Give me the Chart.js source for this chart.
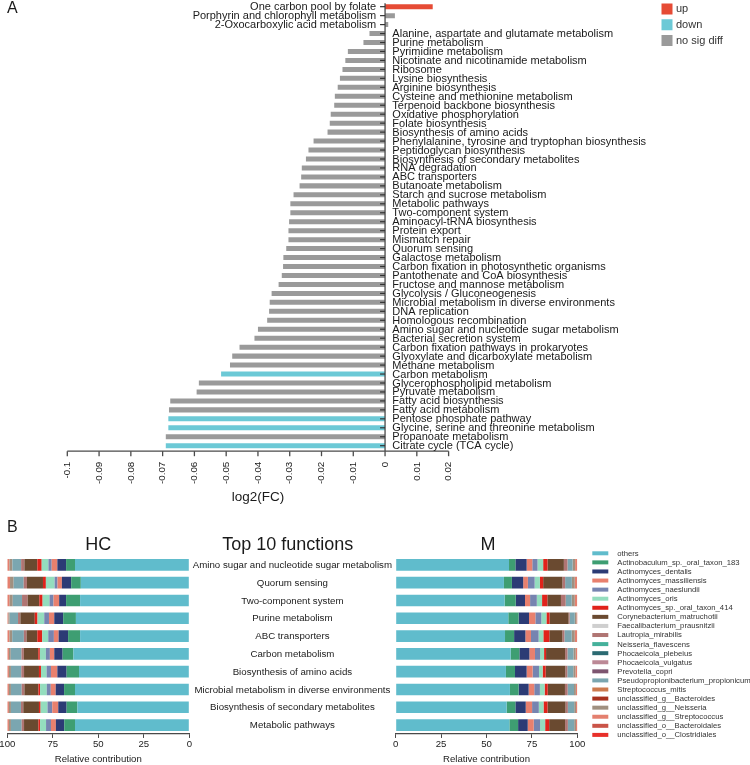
<!DOCTYPE html>
<html><head><meta charset="utf-8">
<script src="https://cdn.jsdelivr.net/npm/chart.js@4.4.1/dist/chart.umd.min.js"></script>
<style>
html,body{margin:0;padding:0;background:#fff;width:750px;height:765px;overflow:hidden;}
canvas{position:absolute;}
</style></head><body>
<canvas id="cA" width="750" height="515" style="left:0;top:0"></canvas>
<canvas id="cHC" width="395" height="250" style="left:0;top:515px"></canvas>
<canvas id="cM" width="365" height="250" style="left:385px;top:515px"></canvas>
<script>
const FONT = "'Liberation Sans', Arial, sans-serif";

// ---------- Panel A data ----------
const pathways = [
 "One carbon pool by folate","Porphyrin and chlorophyll metabolism","2-Oxocarboxylic acid metabolism",
 "Alanine, aspartate and glutamate metabolism","Purine metabolism","Pyrimidine metabolism",
 "Nicotinate and nicotinamide metabolism","Ribosome","Lysine biosynthesis","Arginine biosynthesis",
 "Cysteine and methionine metabolism","Terpenoid backbone biosynthesis","Oxidative phosphorylation",
 "Folate biosynthesis","Biosynthesis of amino acids","Phenylalanine, tyrosine and tryptophan biosynthesis",
 "Peptidoglycan biosynthesis","Biosynthesis of secondary metabolites","RNA degradation","ABC transporters",
 "Butanoate metabolism","Starch and sucrose metabolism","Metabolic pathways","Two-component system",
 "Aminoacyl-tRNA biosynthesis","Protein export","Mismatch repair","Quorum sensing","Galactose metabolism",
 "Carbon fixation in photosynthetic organisms","Pantothenate and CoA biosynthesis","Fructose and mannose metabolism",
 "Glycolysis / Gluconeogenesis","Microbial metabolism in diverse environments","DNA replication",
 "Homologous recombination","Amino sugar and nucleotide sugar metabolism","Bacterial secretion system",
 "Carbon fixation pathways in prokaryotes","Glyoxylate and dicarboxylate metabolism","Methane metabolism",
 "Carbon metabolism","Glycerophospholipid metabolism","Pyruvate metabolism","Fatty acid biosynthesis",
 "Fatty acid metabolism","Pentose phosphate pathway","Glycine, serine and threonine metabolism",
 "Propanoate metabolism","Citrate cycle (TCA cycle)"
];
const log2FC = [
 0.0150, 0.0031, 0.0010,
 -0.0049, -0.0068, -0.0117, -0.0125, -0.0134, -0.0142, -0.0149, -0.0158, -0.0160, -0.0171, -0.0174, -0.0181,
 -0.0225, -0.0241, -0.0249, -0.0262, -0.0264, -0.0269, -0.0288, -0.0298, -0.0298, -0.0302, -0.0304, -0.0304,
 -0.0311, -0.0320, -0.0321, -0.0325, -0.0335, -0.0357, -0.0363, -0.0365, -0.0371, -0.0400, -0.0411, -0.0458,
 -0.0481, -0.0488, -0.0516, -0.0586, -0.0593, -0.0676, -0.0680, -0.0682, -0.0682, -0.0690, -0.0690
];
const status = [
 "up","ns","ns","ns","ns","ns","ns","ns","ns","ns","ns","ns","ns","ns","ns","ns","ns","ns","ns","ns",
 "ns","ns","ns","ns","ns","ns","ns","ns","ns","ns","ns","ns","ns","ns","ns","ns","ns","ns","ns","ns",
 "ns","down","ns","ns","ns","ns","down","down","ns","down"
];
const statusKeys = ["up","down","ns"];
const statusNames = ["up","down","no sig diff"];
const statusColors = {up:"#E64B35", down:"#6CC9D6", ns:"#9A9A9A"};
const xTickValues = [-0.1,-0.09,-0.08,-0.07,-0.06,-0.05,-0.04,-0.03,-0.02,-0.01,0,0.01,0.02];
const xTickLabels = ["-0.1","-0.09","-0.08","-0.07","-0.06","-0.05","-0.04","-0.03","-0.02","-0.01","0","0.01","0.02"];

// ---------- Panel B data ----------
const functions = ["Amino sugar and nucleotide sugar metabolism","Quorum sensing","Two-component system",
 "Purine metabolism","ABC transporters","Carbon metabolism","Biosynthesis of amino acids",
 "Microbial metabolism in diverse environments","Biosynthesis of secondary metabolites","Metabolic pathways"];
const species = ["others","Actinobaculum_sp._oral_taxon_183","Actinomyces_dentalis","Actinomyces_massiliensis",
 "Actinomyces_naeslundii","Actinomyces_oris","Actinomyces_sp._oral_taxon_414","Corynebacterium_matruchotii",
 "Faecalibacterium_prausnitzii","Lautropia_mirabilis","Neisseria_flavescens","Phocaeicola_plebeius",
 "Phocaeicola_vulgatus","Prevotella_copri","Pseudopropionibacterium_propionicum","Streptococcus_mitis",
 "unclassified_g__Bacteroides","unclassified_g__Neisseria","unclassified_g__Streptococcus",
 "unclassified_o__Bacteroidales","unclassified_o__Clostridiales"];
const speciesColors = ["#60BCCC","#3E9E72","#2C3B75","#E8806E","#7684B0","#94DDBE","#E0231B","#6A4A30",
 "#CFCFCF","#B07573","#45B19B","#2B6A72","#BC8996","#7D5570","#7BA6B0","#CD7A4E","#A8321F","#A09080",
 "#E4806F","#CA5448","#E8302A"];
const zero10 = [0,0,0,0,0,0,0,0,0,0];

const hcOthers          = [62.8,59.6,60.0,62.3,60.0,63.7,60.6,62.8,61.5,62.8];
const hcActinobaculum   = [4.9,5.3,7.7,7.0,6.6,5.9,6.8,6.0,5.9,5.9];
const hcDentalis        = [4.8,5.1,3.8,4.9,5.2,4.6,5.1,4.6,4.6,4.6];
const hcMassiliensis    = [3.1,2.4,3.1,2.9,2.6,2.4,3.5,2.7,3.3,2.7];
const hcNaeslundii      = [1.8,1.6,2.2,2.6,3.1,2.2,2.4,2.2,2.6,2.7];
const hcOris            = [3.7,4.8,3.8,3.7,3.3,3.3,3.1,3.7,3.8,3.3];
const hcSp414           = [2.4,1.6,1.8,1.5,2.7,0.9,1.1,0.9,0.9,0.9];
const hcCorynebacterium = [7.1,8.8,6.4,7.9,5.9,7.9,8.2,7.7,8.6,7.9];
const hcLautropia       = [1.8,1.8,3.1,1.3,1.5,1.3,1.5,1.5,1.3,1.3];
const hcPseudoprop      = [4.8,5.5,5.1,4.6,6.4,5.9,5.7,5.9,5.5,5.9];
const hcUgNeisseria     = [1.6,2.0,1.7,0.7,1.5,1.0,1.1,1.1,1.1,1.1];
const hcUgStreptococcus = [1.2,1.5,1.3,0.6,1.2,0.9,0.9,0.9,0.9,0.9];

const mOthers          = [62.4,59.6,60.0,62.0,60.2,63.3,60.7,62.9,61.1,62.6];
const mActinobaculum   = [3.5,4.4,6.1,5.7,5.0,4.8,5.0,4.8,4.8,4.8];
const mDentalis        = [6.2,6.2,5.1,5.7,6.2,5.5,6.4,5.5,5.7,5.3];
const mMassiliensis    = [3.1,2.6,2.8,3.5,3.1,3.1,3.3,3.1,3.5,3.3];
const mNaeslundii      = [2.9,3.7,3.7,3.3,4.2,2.8,3.5,3.1,3.7,3.5];
const mOris            = [3.1,2.9,2.9,2.8,2.6,2.2,2.0,2.6,2.6,2.8];
const mSp414           = [2.4,1.8,2.9,1.7,3.3,1.1,1.7,1.7,2.2,2.2];
const mCorynebacterium = [9.0,10.6,7.5,10.5,7.2,10.5,10.8,9.5,9.9,8.8];
const mLautropia       = [2.0,1.5,2.6,0.6,1.1,1.3,1.1,1.5,1.3,1.5];
const mPseudoprop      = [2.8,3.7,3.3,2.8,4.0,3.3,3.3,3.5,3.5,3.5];
const mUgNeisseria     = [1.4,1.6,1.7,0.9,1.7,1.2,1.2,1.0,1.0,1.0];
const mUgStreptococcus = [1.2,1.3,1.4,0.8,1.4,1.0,1.0,0.8,0.8,0.8];

const hcSeries = [hcOthers,hcActinobaculum,hcDentalis,hcMassiliensis,hcNaeslundii,hcOris,hcSp414,hcCorynebacterium,
 zero10,hcLautropia,zero10,zero10,zero10,zero10,hcPseudoprop,zero10,zero10,hcUgNeisseria,hcUgStreptococcus,zero10,zero10];
const mSeries = [mOthers,mActinobaculum,mDentalis,mMassiliensis,mNaeslundii,mOris,mSp414,mCorynebacterium,
 zero10,mLautropia,zero10,zero10,zero10,zero10,mPseudoprop,zero10,zero10,mUgNeisseria,mUgStreptococcus,zero10,zero10];
const bTicks = [0,25,50,75,100];

// ---------- Panel A ----------
const TXT = "#1a1a1a", AX = "#4a4a4a";
const panelA = {
  id:'panelA',
  afterDraw(chart){
    const ctx = chart.ctx, xs = chart.scales.x, ys = chart.scales.y;
    const x0 = xs.getPixelForValue(0);
    const axisY = ys.bottom + 1;
    ctx.save();
    ctx.strokeStyle = AX; ctx.lineWidth = 1.3;
    // vertical axis at 0
    ctx.beginPath(); ctx.moveTo(x0, ys.top + 1); ctx.lineTo(x0, axisY); ctx.stroke();
    // horizontal axis
    const xa = xs.getPixelForValue(xTickValues[0]), xb = xs.getPixelForValue(xTickValues[xTickValues.length-1]);
    ctx.beginPath(); ctx.moveTo(xa, axisY); ctx.lineTo(xb, axisY); ctx.stroke();
    // x ticks + labels
    ctx.fillStyle = TXT; ctx.font = "9.8px " + FONT;
    xTickValues.forEach((v,i)=>{
      const px = xs.getPixelForValue(v);
      ctx.beginPath(); ctx.moveTo(px, axisY); ctx.lineTo(px, axisY + 5); ctx.stroke();
      ctx.save(); ctx.translate(px, axisY + 10.5); ctx.rotate(-Math.PI/2);
      ctx.textAlign = 'right'; ctx.textBaseline = 'middle';
      ctx.fillText(xTickLabels[i], 0, 0);
      ctx.restore();
    });
    ctx.font = "13.5px " + FONT; ctx.textAlign = 'center'; ctx.textBaseline = 'middle';
    ctx.fillText("log2(FC)", (xa + xb)/2, 497);
    // y ticks & labels
    ctx.font = "11px " + FONT; ctx.textBaseline = 'middle';
    ctx.lineWidth = 1.2; ctx.strokeStyle = "#333";
    pathways.forEach((p,i)=>{
      const py = ys.getPixelForValue(i);
      ctx.beginPath(); ctx.moveTo(x0 - 5, py); ctx.lineTo(x0, py); ctx.stroke();
      if (log2FC[i] > 0){ ctx.textAlign = 'right'; ctx.fillText(p, x0 - 9, py + 0.5); }
      else { ctx.textAlign = 'left'; ctx.fillText(p, x0 + 7.3, py + 0.5); }
    });
    // panel letter
    ctx.font = "16px " + FONT; ctx.textAlign = 'left'; ctx.textBaseline = 'top';
    ctx.fillText("A", 7, 1);
    // legend
    ctx.font = "11px " + FONT; ctx.textBaseline = 'middle'; ctx.fillStyle = "#333";
    statusKeys.forEach((k,i)=>{
      const y = 3.5 + i*15.75;
      ctx.fillStyle = statusColors[k]; ctx.fillRect(661.5, y, 11, 11);
      ctx.fillStyle = "#333"; ctx.fillText(statusNames[i], 676, y + 5.5);
    });
    ctx.restore();
  }
};

new Chart(document.getElementById('cA'), {
  type:'bar',
  data:{labels:pathways, datasets:[{data:log2FC, backgroundColor:status.map(s=>statusColors[s]),
        barPercentage:0.56, categoryPercentage:1}]},
  options:{
    indexAxis:'y', responsive:false, animation:false, devicePixelRatio:1,
    layout:{padding:{left:67.3, right:750-448.6, top:2.2, bottom:515-450.2}},
    scales:{ x:{type:'linear', min:-0.1, max:0.02, display:false}, y:{display:false} },
    plugins:{legend:{display:false}, tooltip:{enabled:false}}
  },
  plugins:[panelA]
});

// ---------- Panel B ----------
const bFont = {family:FONT, size:9.6};
function xAxisB(rev){
  return {
    type:'linear', stacked:true, reverse:rev, min:0, max:100,
    afterBuildTicks(s){ s.ticks = bTicks.map(v=>({value:v})); },
    ticks:{font:bFont, color:"#222", padding:1, maxRotation:0, autoSkip:false},
    grid:{drawOnChartArea:false, drawTicks:true, tickLength:4, color:AX, lineWidth:1},
    border:{color:AX, width:1.2},
    title:{display:true, text:"Relative contribution", font:bFont, color:"#222", padding:{top:2, bottom:0}}
  };
}
function datasetsFor(series){
  return species.map((name,k)=>({label:name, data:series[k], backgroundColor:speciesColors[k],
    barPercentage:0.655, categoryPercentage:1}));
}
const hcPlugin = {
  id:'hcPlugin',
  afterDraw(chart){
    const ctx = chart.ctx, ys = chart.scales.y;
    ctx.save(); ctx.fillStyle = TXT;
    ctx.font = "16px " + FONT; ctx.textAlign = 'left'; ctx.textBaseline = 'top';
    ctx.fillText("B", 7, 5);
    ctx.font = "18px " + FONT; ctx.textAlign = 'center'; ctx.textBaseline = 'middle';
    ctx.fillText("HC", (chart.chartArea.left + chart.chartArea.right)/2, 30);
    ctx.fillText("Top 10 functions", 287.8, 30);
    ctx.font = "9.7px " + FONT;
    functions.forEach((f,i)=>{ ctx.fillText(f, 292.4, ys.getPixelForValue(i) + 0.5); });
    ctx.restore();
  }
};
new Chart(document.getElementById('cHC'), {
  type:'bar',
  data:{labels:functions, datasets:datasetsFor(hcSeries)},
  options:{
    indexAxis:'y', responsive:false, animation:false, devicePixelRatio:1,
    layout:{padding:{left:7.3, right:395-189.3, top:41, bottom:0}},
    scales:{ x:xAxisB(true), y:{stacked:true, display:false} },
    plugins:{legend:{display:false}, tooltip:{enabled:false}}
  },
  plugins:[hcPlugin]
});
const mPlugin = {
  id:'mPlugin',
  afterDraw(chart){
    const ctx = chart.ctx;
    ctx.save(); ctx.fillStyle = TXT;
    ctx.font = "18px " + FONT; ctx.textAlign = 'center'; ctx.textBaseline = 'middle';
    ctx.fillText("M", 488 - 385, 30);
    ctx.font = "7.7px " + FONT; ctx.textAlign = 'left';
    species.forEach((s,i)=>{
      const y = 553.3 - 515 + i*9.08;
      ctx.fillStyle = speciesColors[i]; ctx.fillRect(592.3 - 385, y - 2, 16, 4);
      ctx.fillStyle = "#333"; ctx.fillText(s, 617.3 - 385, y + 0.3);
    });
    ctx.restore();
  }
};
new Chart(document.getElementById('cM'), {
  type:'bar',
  data:{labels:functions, datasets:datasetsFor(mSeries)},
  options:{
    indexAxis:'y', responsive:false, animation:false, devicePixelRatio:1,
    layout:{padding:{left:395.7-385, right:365-(577.3-385), top:41, bottom:0}},
    scales:{ x:xAxisB(false), y:{stacked:true, display:false} },
    plugins:{legend:{display:false}, tooltip:{enabled:false}}
  },
  plugins:[mPlugin]
});
</script>
</body></html>
